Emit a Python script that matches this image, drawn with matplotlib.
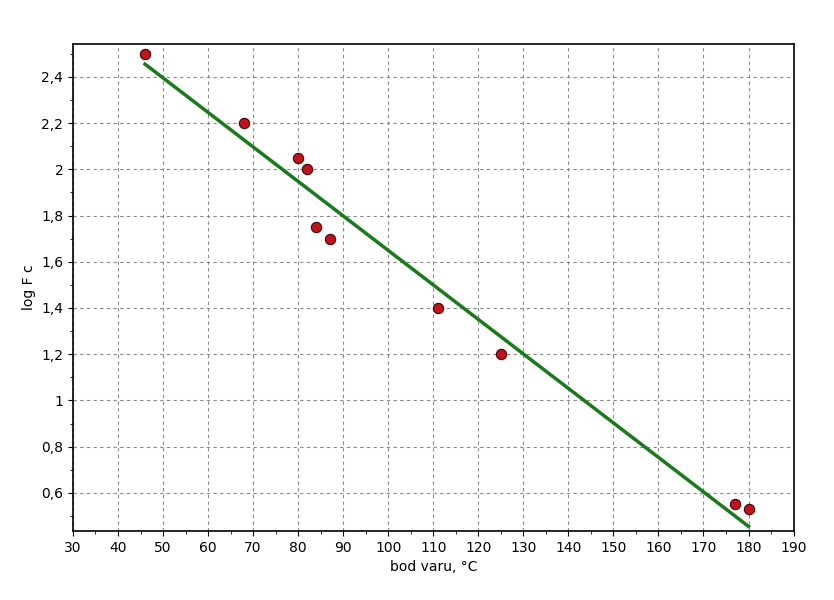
import matplotlib
matplotlib.use("Agg")
import matplotlib.pyplot as plt
import numpy as np
from matplotlib.ticker import MultipleLocator, FuncFormatter

bp = [46, 68, 80, 82, 84, 87, 111, 125, 177, 180]
logfc = [2.5, 2.2, 2.05, 2.0, 1.75, 1.7, 1.4, 1.2, 0.55, 0.53]
fit_x = [46, 180]
fit_y = [2.455, 0.455]

fig = plt.figure(figsize=(8.34, 6.0), dpi=100)
ax = fig.add_axes([0.0875, 0.115, 0.864, 0.812])
ax.plot(fit_x, fit_y, color="#1a7a1a", lw=2.5, zorder=3)
ax.scatter(bp, logfc, s=55, color="#c0141a", edgecolor="#400000", linewidth=0.8, zorder=4)
ax.set_xlim(30, 190)
ax.set_ylim(0.435, 2.543)
ax.xaxis.set_major_locator(MultipleLocator(10))
ax.xaxis.set_minor_locator(MultipleLocator(5))
ax.yaxis.set_major_locator(MultipleLocator(0.2))
ax.yaxis.set_minor_locator(MultipleLocator(0.1))
ax.yaxis.set_major_formatter(FuncFormatter(lambda v, p: ("%g" % round(v, 1)).replace(".", ",")))
ax.grid(True, which="major", ls=(0, (3, 3)), color="#888888", lw=0.8)
for s in ax.spines.values():
    s.set_linewidth(1.2)
ax.tick_params(labelsize=10)
ax.set_xlabel("bod varu, °C", fontsize=10)
ax.set_ylabel("log F c", fontsize=10)
fig.savefig("out.png", dpi=100)
